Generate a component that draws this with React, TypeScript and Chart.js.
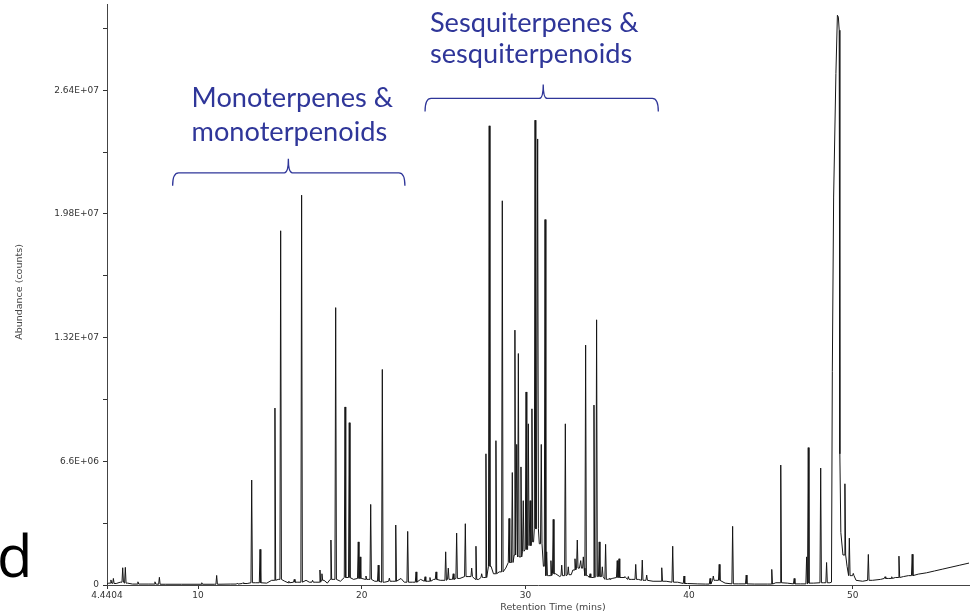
import React, { useEffect, useRef } from 'react';
import { Chart, registerables } from 'chart.js';

Chart.register(...registerables);

// ---- Data (retention time in minutes, abundance in counts) ----
// Sharp chromatographic peaks: apex retention time and apex abundance
const peakRt = [
  4.68, 4.83, 5.40, 5.56, 6.33, 7.37, 7.64, 10.23, 11.14, 12.40, 12.75,
  13.28, 13.79, 14.70, 15.05, 15.55, 15.88, 16.33, 17.00, 17.45, 17.57,
  18.12, 18.41, 18.98, 19.24, 19.79, 19.90, 20.26, 20.55, 21.01, 21.26,
  21.69, 22.08, 22.81, 23.32, 23.87, 24.17, 24.54, 25.13, 25.29, 25.59,
  25.80, 26.33, 26.72, 26.98, 27.33, 27.59, 27.79, 28.20, 28.59, 29.00,
  29.20, 29.36, 29.47, 29.57, 29.73, 29.87, 30.04, 30.18, 30.29, 30.40, 30.59, 30.75,
  30.97, 31.20, 31.30, 31.56, 31.70, 32.22, 32.44, 32.62, 33.03, 33.17,
  33.38, 33.54, 33.68, 33.95, 34.19, 34.35, 34.51, 34.70, 34.90, 35.12,
  35.61, 35.72, 36.08, 36.29, 36.74, 37.14, 37.41, 38.33, 39.00, 39.69,
  41.28, 41.48, 41.84, 42.66, 43.49, 45.05, 45.60, 46.42, 47.18, 47.28,
  48.04, 48.40, 49.52, 49.79, 50.03, 50.95, 51.97, 52.38, 52.82, 53.63,
];
const peakAbund = [
  0.27e6, 0.35e6, 0.92e6, 0.94e6, 0.17e6, 0.17e6, 0.41e6, 0.12e6, 0.51e6, 0.1e6, 0.12e6,
  5.6e6, 1.9e6, 9.44e6, 18.9e6, 0.2e6, 0.3e6, 20.8e6, 0.25e6, 0.8e6, 0.6e6,
  2.4e6, 14.8e6, 9.5e6, 8.66e6, 2.3e6, 1.5e6, 0.48e6, 4.3e6, 1.06e6, 11.5e6,
  0.37e6, 3.2e6, 2.86e6, 0.7e6, 0.44e6, 0.4e6, 0.7e6, 1.77e6, 0.9e6, 0.6e6,
  2.77e6, 3.27e6, 0.9e6, 2.07e6, 0.6e6, 7.0e6, 24.5e6, 7.7e6, 20.5e6, 3.55e6,
  6.0e6, 13.6e6, 7.5e6, 12.35e6, 6.3e6, 4.5e6, 10.3e6, 8.6e6, 4.5e6, 9.4e6, 24.8e6, 23.8e6,
  7.5e6, 19.5e6, 1.77e6, 1.3e6, 3.5e6, 1.06e6, 8.6e6, 0.97e6, 1.4e6, 2.4e6,
  1.3e6, 1.5e6, 12.8e6, 0.6e6, 9.6e6, 14.15e6, 2.3e6, 0.97e6, 2.17e6, 0.35e6,
  1.3e6, 1.4e6, 0.45e6, 0.45e6, 1.1e6, 1.33e6, 0.53e6, 0.92e6, 2.07e6, 0.48e6,
  0.35e6, 0.48e6, 1.1e6, 3.13e6, 0.53e6, 0.83e6, 6.4e6, 0.35e6, 1.5e6, 7.33e6,
  6.24e6, 1.2e6, 5.4e6, 2.5e6, 0.62e6, 1.63e6, 0.44e6, 0.44e6, 1.54e6, 1.64e6,
];
// Background trace (baseline, hump and the broad fronting peak near 49 min)
const traceRt = [
  4.44, 4.55, 5.0, 5.25, 5.7, 6.0, 7.0, 8.0, 9.0, 10.0, 11.0, 12.0, 13.0, 13.5,
  14.2, 14.5, 14.9, 15.3, 15.6, 16.1, 16.6, 16.8, 17.2, 17.7, 17.9, 18.25, 18.7,
  19.1, 19.5, 20.0, 20.4, 20.8, 21.4, 21.9, 22.4, 22.6, 23.1, 23.6, 24.0, 24.4,
  24.8, 25.5, 26.0, 26.5, 27.15, 27.45, 27.9, 28.05, 28.4, 28.8, 29.1, 29.42,
  29.65, 29.95, 30.1, 30.23, 30.5, 30.67, 30.85, 31.1, 31.4, 31.85, 32.1, 32.3,
  32.8, 32.9, 33.3, 33.8, 34.05, 34.6, 35.0, 35.3, 35.9, 36.5, 36.9, 37.3, 37.8,
  38.6, 39.3, 39.9, 40.5, 41.0, 41.6, 42.2, 43.0, 44.0, 44.8, 45.3, 46.0, 46.8,
  47.6, 48.2, 48.6, 48.70, 48.75, 48.83, 48.97, 49.06, 49.12, 49.17, 49.21,
  49.27, 49.4, 49.65, 49.9, 50.2, 50.6, 51.2, 51.7, 52.2, 52.6, 53.1, 53.4,
  54.0, 54.5, 55.0, 55.5, 56.0, 56.5, 57.1,
];
const traceAbund = [
  0.05e6, 0.1e6, 0.08e6, 0.15e6, 0.1e6, 0.05e6, 0.05e6, 0.04e6, 0.04e6, 0.04e6, 0.04e6, 0.05e6, 0.08e6, 0.12e6,
  0.1e6, 0.25e6, 0.3e6, 0.2e6, 0.12e6, 0.15e6, 0.25e6, 0.15e6, 0.15e6, 0.25e6, 0.1e6, 0.3e6, 0.2e6,
  0.4e6, 0.3e6, 0.35e6, 0.3e6, 0.2e6, 0.15e6, 0.2e6, 0.35e6, 0.15e6, 0.15e6, 0.3e6, 0.2e6, 0.3e6,
  0.25e6, 0.3e6, 0.35e6, 0.45e6, 0.3e6, 0.4e6, 1.0e6, 0.6e6, 0.7e6, 0.9e6, 1.2e6, 1.6e6,
  1.5e6, 1.8e6, 1.9e6, 2.1e6, 2.3e6, 3.0e6, 2.2e6, 1.0e6, 0.5e6, 0.6e6, 0.45e6, 0.5e6,
  0.55e6, 0.8e6, 0.9e6, 0.5e6, 0.4e6, 0.45e6, 0.3e6, 0.35e6, 0.4e6, 0.3e6, 0.3e6, 0.25e6, 0.2e6,
  0.2e6, 0.15e6, 0.08e6, 0.06e6, 0.05e6, 0.25e6, 0.1e6, 0.06e6, 0.05e6, 0.05e6, 0.12e6, 0.1e6, 0.06e6,
  0.1e6, 0.12e6, 0.12e6, 0.15e6, 11.4e6, 20.7e6, 27.3e6, 30.4e6, 30.3e6, 29.6e6, 7.0e6,
  2.8e6, 1.6e6, 1.0e6, 0.5e6, 0.25e6, 0.2e6, 0.25e6, 0.3e6, 0.35e6, 0.4e6, 0.45e6, 0.5e6,
  0.58e6, 0.65e6, 0.75e6, 0.85e6, 0.95e6, 1.05e6, 1.17e6,
];

const xTickValues = [4.4404, 10, 20, 30, 40, 50];
const xTickLabels = ['4.4404', '10', '20', '30', '40', '50'];
const yTickValues = [0, 3.3e6, 6.6e6, 9.9e6, 13.2e6, 16.5e6, 19.8e6, 23.1e6, 26.4e6, 29.7e6];
const yTickLabels = ['0', '', '6.6E+06', '', '1.32E+07', '', '1.98E+07', '', '2.64E+07', ''];
const X_MIN = 4.4404;
const X_MAX = 57.1;
const Y_MAX = 3.1e7;

// Annotation groups (text lines, brace span in minutes, brace level in counts)
const groupLines = [
  ['Monoterpenes &', 'monoterpenoids'],
  ['Sesquiterpenes &', 'sesquiterpenoids'],
];
const braceFrom = [8.45, 23.87];
const braceTo = [22.64, 38.12];
const braceTip = [15.52, 31.09];
const braceLevel = [21.99e6, 25.96e6];
const textLeft = [9.61, 24.17];
const textLine1 = [25.51e6, 29.51e6];
const textLine2 = [23.71e6, 27.84e6];

const PEAK_HALF_WIDTH = 0.045;

function buildPoints() {
  const pts: { x: number; y: number }[] = [];
  const nearestLevel = (t: number) => {
    let best = 0;
    for (let i = 1; i < traceRt.length; i++) {
      if (Math.abs(traceRt[i] - t) < Math.abs(traceRt[best] - t)) best = i;
    }
    return traceAbund[best];
  };
  traceRt.forEach((t, i) => {
    const inside = peakRt.some((p) => Math.abs(p - t) < PEAK_HALF_WIDTH + 0.005);
    if (!inside) pts.push({ x: t, y: traceAbund[i] });
  });
  peakRt.forEach((t, i) => {
    const foot = nearestLevel(t);
    pts.push({ x: t - PEAK_HALF_WIDTH, y: foot });
    pts.push({ x: t, y: peakAbund[i] });
    pts.push({ x: t + PEAK_HALF_WIDTH, y: foot });
  });
  pts.sort((a, b) => a.x - b.x);
  return pts;
}

const BLUE = '#2f3699';

const annotationPlugin = {
  id: 'chromAnnotations',
  afterDraw(chart: any) {
    const { ctx } = chart;
    const xs = chart.scales.x;
    const ys = chart.scales.y;
    ctx.save();

    // panel letter
    ctx.fillStyle = '#000';
    ctx.font = '58px "Open Sans"';
    ctx.textAlign = 'left';
    ctx.textBaseline = 'alphabetic';
    const dm = ctx.measureText('d');
    ctx.fillText('d', 0 + dm.actualBoundingBoxLeft, 577);

    // axis titles
    ctx.fillStyle = '#444';
    ctx.font = '9.5px "DejaVu Sans"';
    ctx.textAlign = 'center';
    ctx.textBaseline = 'middle';
    ctx.fillText('Retention Time (mins)', 553, 608);
    ctx.save();
    ctx.translate(20, 292);
    ctx.rotate(-Math.PI / 2);
    ctx.fillText('Abundance (counts)', 0, 0);
    ctx.restore();

    // annotation texts
    ctx.font = '100px Lato';
    const ref = ctx.measureText('Monoterpenes &').width;
    const size = (100 * 201.6) / ref;
    ctx.font = `${size.toFixed(2)}px Lato`;
    ctx.fillStyle = BLUE;
    ctx.textAlign = 'left';
    ctx.textBaseline = 'alphabetic';
    groupLines.forEach((lines, i) => {
      const x = xs.getPixelForValue(textLeft[i]);
      ctx.fillText(lines[0], x, ys.getPixelForValue(textLine1[i]));
      ctx.fillText(lines[1], x, ys.getPixelForValue(textLine2[i]));
    });

    // braces
    ctx.strokeStyle = BLUE;
    ctx.lineWidth = 1.3;
    braceFrom.forEach((_, i) => {
      const x1 = xs.getPixelForValue(braceFrom[i]);
      const x2 = xs.getPixelForValue(braceTo[i]);
      const xt = xs.getPixelForValue(braceTip[i]);
      const yb = ys.getPixelForValue(braceLevel[i]);
      const ye = yb + 13;
      const yt = yb - 14;
      const r = 6;
      ctx.beginPath();
      ctx.moveTo(x1, ye);
      ctx.quadraticCurveTo(x1, yb, x1 + r, yb);
      ctx.lineTo(xt - 4, yb);
      ctx.quadraticCurveTo(xt, yb, xt, yt);
      ctx.quadraticCurveTo(xt, yb, xt + 4, yb);
      ctx.lineTo(x2 - r, yb);
      ctx.quadraticCurveTo(x2, yb, x2, ye);
      ctx.stroke();
    });
    ctx.restore();
  },
};

export default function App() {
  const ref = useRef<HTMLCanvasElement>(null);
  useEffect(() => {
    const canvas = ref.current!;
    const chart = new Chart(canvas, {
      type: 'line',
      data: {
        datasets: [
          {
            data: buildPoints(),
            borderColor: '#151515',
            borderWidth: 1,
            pointRadius: 0,
            fill: false,
            tension: 0,
          },
        ],
      },
      options: {
        animation: false,
        responsive: false,
        events: [],
        parsing: false,
        layout: { padding: { left: 0, right: 2, top: 4, bottom: 0 } },
        plugins: { legend: { display: false }, tooltip: { enabled: false } },
        scales: {
          x: {
            type: 'linear',
            min: X_MIN,
            max: X_MAX,
            afterBuildTicks: (s: any) => {
              s.ticks = xTickValues.map((v) => ({ value: v }));
            },
            afterFit: (s: any) => {
              s.height = 30;
              s.paddingLeft = 0;
              s.paddingRight = 0;
            },
            ticks: {
              autoSkip: false,
              maxRotation: 0,
              padding: 1,
              color: '#333',
              font: { family: 'DejaVu Sans', size: 9 },
              callback: (_v: any, i: number) => xTickLabels[i],
            },
            grid: { drawOnChartArea: false, drawTicks: true, tickLength: 4, color: '#333' },
            border: { display: true, color: '#444', width: 1 },
          },
          y: {
            type: 'linear',
            min: 0,
            max: Y_MAX,
            afterBuildTicks: (s: any) => {
              s.ticks = yTickValues.map((v) => ({ value: v }));
            },
            afterFit: (s: any) => {
              s.width = 107;
              s.paddingTop = 0;
              s.paddingBottom = 0;
            },
            ticks: {
              autoSkip: false,
              padding: 4,
              color: '#333',
              font: { family: 'DejaVu Sans', size: 9 },
              callback: (_v: any, i: number) => yTickLabels[i],
            },
            grid: { drawOnChartArea: false, drawTicks: true, tickLength: 4, color: '#333' },
            border: { display: true, color: '#444', width: 1 },
          },
        },
      },
      plugins: [annotationPlugin],
    } as any);
    return () => chart.destroy();
  }, []);
  return (
    <div style={{ position: 'fixed', left: 0, top: 0, width: 971, height: 615, background: '#fff' }}>
      <canvas ref={ref} width={971} height={615} style={{ display: 'block', width: 971, height: 615 }} />
    </div>
  );
}
